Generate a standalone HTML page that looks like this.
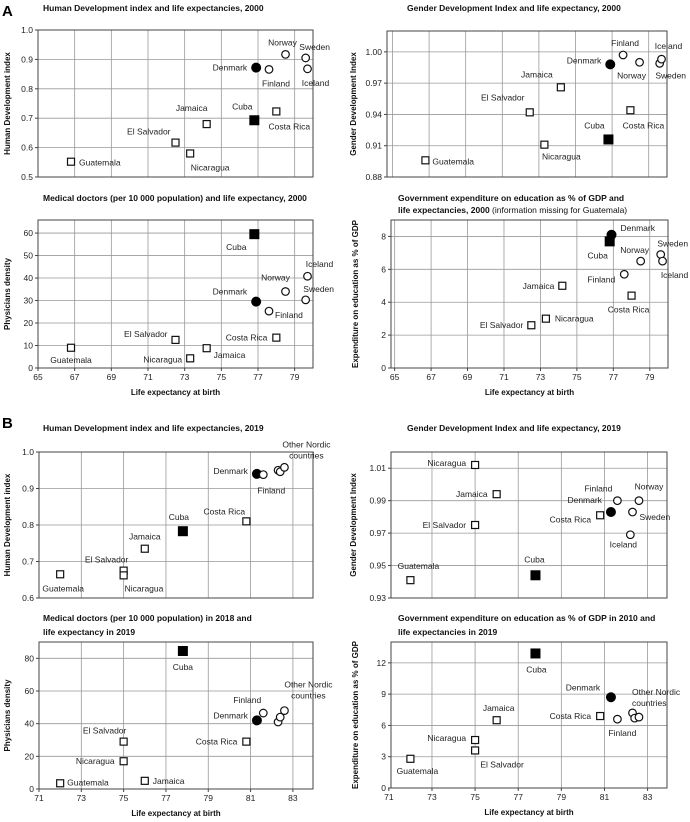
<!DOCTYPE html>
<html><head><meta charset="utf-8"><style>
body{margin:0;background:#fff}
svg{display:block;font-family:"Liberation Sans",sans-serif}
.t{font-size:8.5px;font-weight:bold;fill:#111}
.lb{font-size:8.5px;fill:#222}
.tk{font-size:8.5px;fill:#222}
.ax{font-size:8px;font-weight:bold;fill:#111}
</style></head><body>
<svg id="fig" width="690" height="822" viewBox="0 0 690 822">
<text x="2" y="16" font-size="15" font-weight="bold">A</text>
<text x="2" y="428" font-size="15" font-weight="bold">B</text>
<text class="t" x="43" y="11">Human Development index and life expectancies, 2000</text>
<text class="t" x="407" y="11">Gender Development Index and life expectancy, 2000</text>
<text class="t" x="43" y="201">Medical doctors (per 10 000 population) and life expectancy, 2000</text>
<text class="t" x="398" y="201">Government expenditure on education as % of GDP and</text>
<text class="t" x="398" y="213">life expectancies, 2000 <tspan font-weight="normal">(information missing for Guatemala)</tspan></text>
<text class="t" x="43" y="431">Human Development index and life expectancies, 2019</text>
<text class="t" x="407" y="431">Gender Development Index and life expectancy, 2019</text>
<text class="t" x="43" y="621">Medical doctors (per 10 000 population) in 2018 and</text>
<text class="t" x="43" y="635">life expectancy in 2019</text>
<text class="t" x="398" y="621">Government expenditure on education as % of GDP in 2010 and</text>
<text class="t" x="398" y="635">life expectancies in 2019</text>
</svg>
<script>
// ---- data ----
const namesA=["Guatemala","El Salvador","Nicaragua","Jamaica","Cuba","Denmark","Costa Rica","Finland","Norway","Sweden","Iceland"];
const typesA=["os","os","os","os","fs","fc","os","oc","oc","oc","oc"];
const lifeA=[66.8,72.5,73.3,74.2,76.8,76.9,78.0,77.6,78.5,79.6,79.7];
const hdiA=[0.552,0.617,0.580,0.680,0.693,0.872,0.723,0.866,0.917,0.905,0.868];
const gdiA=[0.896,0.942,0.911,0.966,0.916,0.988,0.944,0.997,0.990,0.989,0.993];
const docA=[9,12.5,4.3,8.8,59.5,29.5,13.5,25.3,34,30.3,40.8];
const eduA=[null,2.6,3.0,5.0,7.7,8.1,4.4,5.7,6.5,6.9,6.5];
const namesB=["Guatemala","El Salvador","Nicaragua","Jamaica","Cuba","Costa Rica","Denmark","Finland","Nordic1","Nordic2","Nordic3"];
const typesB=["os","os","os","os","fs","os","fc","oc","oc","oc","oc"];
const lifeB=[72.0,75.0,75.0,76.0,77.8,80.8,81.3,81.6,82.3,82.4,82.6];
const hdiB=[0.665,0.675,0.662,0.735,0.783,0.810,0.940,0.938,0.950,0.946,0.958];
const gdiLifeB=[72.0,75.0,75.0,76.0,77.8,80.8,81.3,81.6,82.6,82.3,82.2];
const gdiB=[0.941,0.975,1.012,0.994,0.944,0.981,0.983,0.990,0.990,0.983,0.969];
const docB=[3.5,29,17,5,84.5,29,42,46.5,41,44,48];
const eduB=[2.8,3.6,4.6,6.5,12.9,6.9,8.7,6.6,7.2,6.7,6.8];
const xTicksA=[65,67,69,71,73,75,77,79];
const xTicksB=[71,73,75,77,79,81,83];

const S="http://www.w3.org/2000/svg",svg=document.getElementById('fig');
function mk(tag,at,parent){const e=document.createElementNS(S,tag);for(const k in at)e.setAttribute(k,at[k]);(parent||svg).appendChild(e);return e;}

function panel(c){
  const g=mk('g',{});
  
  
  const sx=v=>c.x0+(v-c.xmin)/(c.xmax-c.xmin)*(c.x1-c.x0);
  const sy=v=>c.y1-(v-c.ymin)/(c.ymax-c.ymin)*(c.y1-c.y0);
  if(c.vgrid)c.xt.forEach(t=>{const x=sx(t);if(x>c.x0+1&&x<c.x1-1){const l=mk('line',{x1:x,x2:x,y1:c.y0,y2:c.y1,stroke:'#999','stroke-width':0.8},g);}});
  if(c.hgrid)c.yt.forEach(t=>{const y=sy(t);if(y>c.y0+1&&y<c.y1-1){const l=mk('line',{x1:c.x0,x2:c.x1,y1:y,y2:y,stroke:'#999','stroke-width':0.8},g);}});
  const fr=mk('rect',{x:c.x0,y:c.y0,width:c.x1-c.x0,height:c.y1-c.y0,fill:'none',stroke:'#444','stroke-width':1},g);
  
  c.yt.forEach(t=>{const y=sy(t);mk('line',{x1:c.x0-3,x2:c.x0,y1:y,y2:y,stroke:'#444'},g);
    const tx=mk('text',{x:c.x0-5,y:y+3,'text-anchor':'end',class:'tk'},g);tx.textContent=t.toFixed(c.yd);
    });
  if(c.xlab){c.xt.forEach(t=>{const x=sx(t);mk('line',{x1:x,x2:x,y1:c.y1,y2:c.y1+3,stroke:'#444'},g);
    const tx=mk('text',{x:x,y:c.y1+12,'text-anchor':'middle',class:'tk'},g);tx.textContent=t;
    });
    const xt=mk('text',{x:(c.x0+c.x1)/2,y:c.y1+27,'text-anchor':'middle',class:'ax'},g);xt.textContent='Life expectancy at birth';
    }
  const yt=mk('text',{x:0,y:0,'text-anchor':'middle',class:'ax',transform:`translate(${c.ytx},${(c.y0+c.y1)/2}) rotate(-90)`},g);
  yt.textContent=c.ytitle;
  c.xs.forEach((xv,i)=>{const yv=c.ys[i];if(yv==null)return;const x=sx(xv),y=sy(yv),t=c.types[i];let m;
    if(t==='os')m=mk('rect',{x:x-3.5,y:y-3.5,width:7,height:7,fill:'#fff',stroke:'#111','stroke-width':1.2},g);
    else if(t==='fs')m=mk('rect',{x:x-5,y:y-5,width:10,height:10,fill:'#000'},g);
    else if(t==='fc')m=mk('circle',{cx:x,cy:y,r:5,fill:'#000'},g);
    else m=mk('circle',{cx:x,cy:y,r:3.8,fill:'#fff',stroke:'#111','stroke-width':1.2},g);
    
    
    const o=c.lab[i];if(!o)return;
    (Array.isArray(o[3])?o[3]:[o[3]]).forEach((s,k)=>{
      const tx=mk('text',{x:x+o[0],y:y+o[1]+3+k*11,'text-anchor':o[2],class:'lb'},g);tx.textContent=s;
      });
  });
}
const M='middle',E='end',B='start';
const labA1=[[8,1,B,'Guatemala'],[-5,-11,E,'El Salvador'],[20,14,M,'Nicaragua'],[-15,-16,M,'Jamaica'],[-12,-14,M,'Cuba'],[-9,0,E,'Denmark'],[13,15,M,'Costa Rica'],[7,14,M,'Finland'],[-3,-12,M,'Norway'],[9,-11,M,'Sweden'],[8,14,M,'Iceland']];
const labA2=[[7,1,B,'Guatemala'],[-27,-15,M,'El Salvador'],[17,12,M,'Nicaragua'],[-24,-13,M,'Jamaica'],[-14,-14,M,'Cuba'],[-9,-4,E,'Denmark'],[13,15,M,'Costa Rica'],[2,-12,M,'Finland'],[-8,13,M,'Norway'],[11,12,M,'Sweden'],[7,-13,M,'Iceland']];
const labA3=[[0,12,M,'Guatemala'],[-8,-6,E,'El Salvador'],[-8,1,E,'Nicaragua'],[7,7,B,'Jamaica'],[-18,13,M,'Cuba'],[-9,-10,E,'Denmark'],[-9,0,E,'Costa Rica'],[6,4,B,'Finland'],[-10,-14,M,'Norway'],[13,-11,M,'Sweden'],[12,-12,M,'Iceland']];
const labA4=[null,[-8,0,E,'El Salvador'],[9,0,B,'Nicaragua'],[-8,0,E,'Jamaica'],[-12,14,M,'Cuba'],[9,-7,B,'Denmark'],[-3,14,M,'Costa Rica'],[-9,5,E,'Finland'],[-6,-11,M,'Norway'],[12,-11,M,'Sweden'],[12,14,M,'Iceland']];
const labB1=[[3,14,M,'Guatemala'],[-17,-11,M,'El Salvador'],[1,13,B,'Nicaragua'],[0,-12,M,'Jamaica'],[-4,-14,M,'Cuba'],[-22,-10,M,'Costa Rica'],[-9,-3,E,'Denmark'],[8,16,M,'Finland'],null,null,[22,-23,M,['Other Nordic','countries']]];
const labB2=[[8,-14,M,'Guatemala'],[-9,0,E,'El Salvador'],[-9,-2,E,'Nicaragua'],[-9,0,E,'Jamaica'],[-1,-16,M,'Cuba'],[-9,4,E,'Costa Rica'],[-9,-12,E,'Denmark'],[-19,-12,M,'Finland'],[10,-14,M,'Norway'],[7,5,B,'Sweden'],[-7,10,M,'Iceland']];
const labB3=[[7,-1,B,'Guatemala'],[-19,-11,M,'El Salvador'],[-9,0,E,'Nicaragua'],[8,0,B,'Jamaica'],[0,16,M,'Cuba'],[-9,0,E,'Costa Rica'],[-9,-5,E,'Denmark'],[-16,-13,M,'Finland'],null,null,[24,-26,M,['Other Nordic','countries']]];
const labB4=[[7,12,M,'Guatemala'],[27,14,M,'El Salvador'],[-9,-2,E,'Nicaragua'],[2,-12,M,'Jamaica'],[1,16,M,'Cuba'],[-9,0,E,'Costa Rica'],[-28,-10,M,'Denmark'],[5,14,M,'Finland'],null,null,[-7,-25,B,['Other Nordic','countries']]];

panel({id:'chart-a1-hdi-2000',x0:38,x1:313,y0:30,y1:177,xmin:65,xmax:80,ymin:0.5,ymax:1.0,xt:xTicksA,yt:[0.5,0.6,0.7,0.8,0.9,1.0],yd:1,vgrid:1,hgrid:1,xlab:0,ytx:10,ytitle:'Human Development index',xs:lifeA,ys:hdiA,types:typesA,names:namesA,lab:labA1});
panel({id:'chart-a2-gdi-2000',x0:387,x1:667,y0:31,y1:177,xmin:64.7,xmax:80,ymin:0.88,ymax:1.02,xt:xTicksA,yt:[0.88,0.91,0.94,0.97,1.00],yd:2,vgrid:1,hgrid:1,xlab:0,ytx:356,ytitle:'Gender Development Index',xs:lifeA,ys:gdiA,types:typesA,names:namesA,lab:labA2});
panel({id:'chart-a3-doctors-2000',x0:38,x1:313,y0:220,y1:368,xmin:65,xmax:80,ymin:0,ymax:65.8,xt:xTicksA,yt:[0,10,20,30,40,50,60],yd:0,vgrid:1,hgrid:1,xlab:1,ytx:10,ytitle:'Physicians density',xs:lifeA,ys:docA,types:typesA,names:namesA,lab:labA3});
panel({id:'chart-a4-education-2000',x0:391,x1:668,y0:220,y1:368,xmin:64.8,xmax:80,ymin:0,ymax:9,xt:xTicksA,yt:[0,2,4,6,8],yd:0,vgrid:1,hgrid:1,xlab:1,ytx:358,ytitle:'Expenditure on education as % of GDP',xs:lifeA,ys:eduA,types:typesA,names:namesA,lab:labA4});
panel({id:'chart-b1-hdi-2019',x0:39,x1:313,y0:452,y1:598,xmin:71,xmax:83.95,ymin:0.6,ymax:1.0,xt:xTicksB,yt:[0.6,0.7,0.8,0.9,1.0],yd:1,vgrid:1,hgrid:1,xlab:0,ytx:10,ytitle:'Human Development index',xs:lifeB,ys:hdiB,types:typesB,names:namesB,lab:labB1});
panel({id:'chart-b2-gdi-2019',x0:391,x1:667,y0:452,y1:598,xmin:71.1,xmax:83.9,ymin:0.93,ymax:1.02,xt:xTicksB,yt:[0.93,0.95,0.97,0.99,1.01],yd:2,vgrid:1,hgrid:1,xlab:0,ytx:356,ytitle:'Gender Development Index',xs:gdiLifeB,ys:gdiB,types:typesB,names:namesB,lab:labB2});
panel({id:'chart-b3-doctors-2019',x0:39,x1:313,y0:642,y1:789,xmin:71,xmax:83.95,ymin:0,ymax:90,xt:xTicksB,yt:[0,20,40,60,80],yd:0,vgrid:1,hgrid:1,xlab:1,ytx:10,ytitle:'Physicians density',xs:lifeB,ys:docB,types:typesB,names:namesB,lab:labB3});
panel({id:'chart-b4-education-2019',x0:391,x1:667,y0:642,y1:788,xmin:71.1,xmax:83.9,ymin:0,ymax:14,xt:xTicksB,yt:[0,3,6,9,12],yd:0,vgrid:1,hgrid:1,xlab:1,ytx:358,ytitle:'Expenditure on education as % of GDP',xs:lifeB,ys:eduB,types:typesB,names:namesB,lab:labB4});
</script>
</body></html>
